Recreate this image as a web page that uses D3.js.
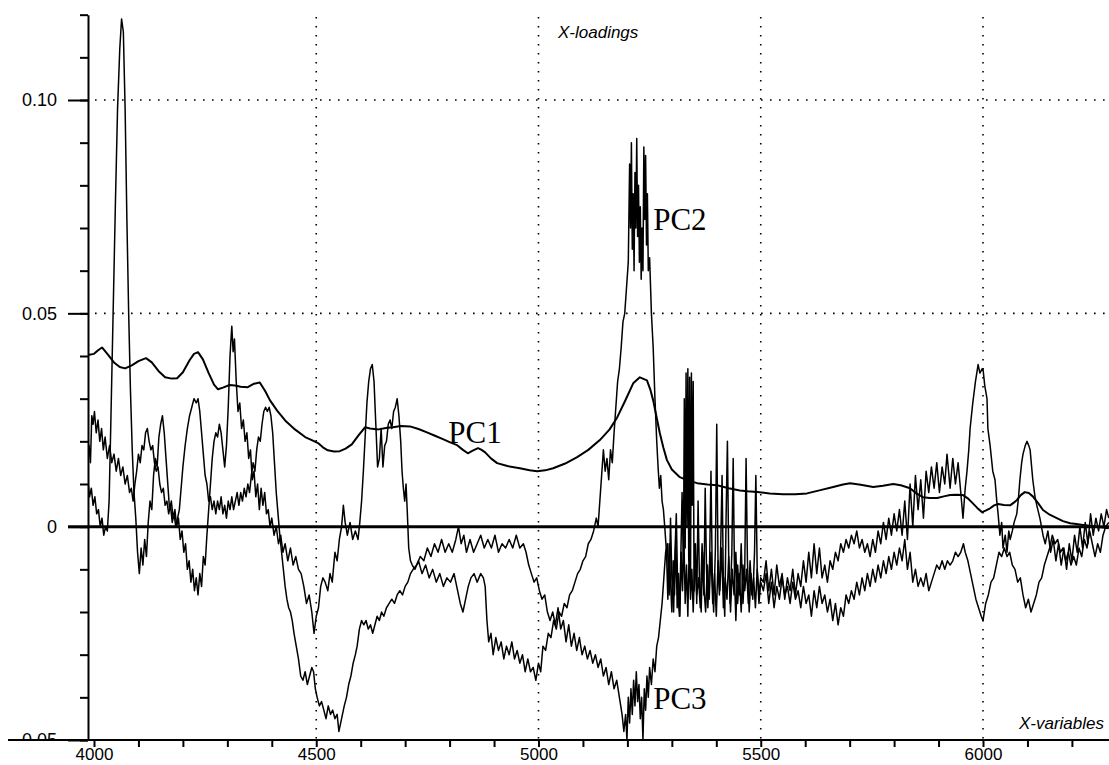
<!DOCTYPE html>
<html>
<head>
<meta charset="utf-8">
<script src="https://cdn.jsdelivr.net/npm/d3@7"></script>
<style>
  body { margin: 0; background: #fff; }
  svg { display: block; }
  .tick text { font-family: "Liberation Sans", Arial, sans-serif; font-size: 17px; fill: #000; }
</style>
</head>
<body>
<script>
// x-variable (wavenumber), loading value
var pc1 = [
  [3986,0.0402],[4000,0.0405],[4010,0.0414],[4018,0.0420],[4030,0.0405],[4045,0.0385],[4058,0.0374],[4070,0.0371],
  [4085,0.0378],[4100,0.0388],[4117,0.0395],[4130,0.0385],[4145,0.0365],[4160,0.0350],[4175,0.0347],[4187,0.0348],
  [4200,0.0362],[4215,0.0390],[4225,0.0405],[4234,0.0409],[4245,0.0392],[4258,0.0360],[4270,0.0333],[4279,0.0322],
  [4290,0.0326],[4305,0.0332],[4317,0.0331],[4330,0.0328],[4346,0.0327],[4360,0.0335],[4373,0.0338],[4385,0.0318],
  [4396,0.0296],[4412,0.0272],[4430,0.0249],[4452,0.0228],[4475,0.0210],[4490,0.0203],[4504,0.0196],[4515,0.0186],
  [4526,0.0179],[4540,0.0176],[4553,0.0177],[4566,0.0183],[4580,0.0193],[4595,0.0214],[4610,0.0233],[4621,0.0230],
  [4640,0.0228],[4660,0.0232],[4673,0.0233],[4690,0.0236],[4711,0.0235],[4730,0.0229],[4749,0.0221],[4767,0.0213],
  [4785,0.0205],[4800,0.0198],[4817,0.0191],[4830,0.0180],[4841,0.0172],[4852,0.0178],[4864,0.0184],[4872,0.0180],
  [4880,0.0174],[4893,0.0160],[4907,0.0149],[4930,0.0142],[4958,0.0137],[4980,0.0132],[4997,0.0130],[5015,0.0132],
  [5033,0.0137],[5060,0.0148],[5087,0.0163],[5112,0.0180],[5138,0.0203],[5160,0.0228],[5177,0.0256],[5195,0.0295],
  [5213,0.0336],[5228,0.0350],[5244,0.0343],[5252,0.0320],[5258,0.0296],[5265,0.0260],[5273,0.0219],[5281,0.0185],
  [5289,0.0156],[5300,0.0134],[5318,0.0116],[5337,0.0108],[5357,0.0102],[5380,0.0099],[5402,0.0097],[5428,0.0090],
  [5453,0.0085],[5470,0.0083],[5492,0.0081],[5520,0.0078],[5550,0.0076],[5578,0.0076],[5604,0.0078],[5632,0.0085],
  [5663,0.0093],[5685,0.0099],[5701,0.0102],[5725,0.0098],[5753,0.0093],[5775,0.0096],[5798,0.0100],[5815,0.0097],
  [5836,0.0090],[5850,0.0078],[5865,0.0069],[5880,0.0067],[5897,0.0067],[5912,0.0071],[5926,0.0074],[5940,0.0075],
  [5955,0.0074],[5965,0.0067],[5975,0.0057],[5987,0.0044],[5998,0.0034],[6007,0.0038],[6016,0.0043],[6025,0.0050],
  [6034,0.0053],[6047,0.0051],[6061,0.0050],[6070,0.0057],[6076,0.0062],[6085,0.0074],[6094,0.0081],[6103,0.0079],
  [6112,0.0071],[6124,0.0055],[6135,0.0039],[6150,0.0028],[6166,0.0020],[6180,0.0013],[6196,0.0008],[6210,0.0006],
  [6225,0.0004],[6240,0.0002],[6256,0.0000],[6270,-0.0002],[6283,-0.0004]
];

var pc2 = [
  [3986,0.011],[3990,0.007],[3994,0.009],[3998,0.005],[4002,0.007],[4006,0.003],[4010,0.004],[4014,0.000],
  [4018,0.002],[4022,-0.002],[4026,0.000],[4030,-0.001],[4034,0.006],[4038,0.025],[4043,0.050],[4048,0.075],
  [4053,0.098],[4058,0.112],[4062,0.119],[4066,0.116],[4070,0.098],[4074,0.072],[4078,0.050],[4082,0.032],
  [4086,0.018],[4090,0.008],[4094,0.002],[4098,-0.006],[4102,-0.011],[4106,-0.005],[4110,-0.009],[4114,-0.003],
  [4118,-0.007],[4122,0.001],[4126,0.006],[4130,0.004],[4134,0.012],[4138,0.016],[4142,0.014],[4146,0.021],
  [4150,0.024],[4154,0.026],[4158,0.022],[4162,0.016],[4166,0.010],[4170,0.004],[4174,0.006],[4178,0.002],
  [4182,0.004],[4186,0.000],[4190,0.002],[4194,-0.003],[4198,-0.001],[4202,-0.006],[4206,-0.004],[4210,-0.010],
  [4214,-0.008],[4218,-0.013],[4222,-0.010],[4226,-0.015],[4230,-0.012],[4234,-0.016],[4238,-0.011],[4242,-0.014],
  [4246,-0.007],[4250,-0.009],[4254,-0.002],[4258,0.004],[4262,0.010],[4266,0.016],[4270,0.020],[4274,0.022],
  [4278,0.021],[4282,0.024],[4286,0.022],[4290,0.018],[4294,0.014],[4298,0.019],[4302,0.028],[4306,0.040],
  [4310,0.047],[4313,0.041],[4316,0.044],[4320,0.034],[4324,0.027],[4328,0.029],[4332,0.023],[4336,0.025],
  [4340,0.020],[4344,0.022],[4348,0.016],[4352,0.018],[4356,0.011],[4360,0.013],[4364,0.007],[4368,0.010],
  [4372,0.004],[4376,0.009],[4380,0.005],[4384,0.008],[4388,0.003],[4392,0.004],[4396,0.000],[4400,0.002],
  [4405,-0.002],[4410,0.000],[4415,-0.004],[4420,-0.002],[4425,-0.006],[4430,-0.004],[4436,-0.008],[4442,-0.005],
  [4448,-0.009],[4454,-0.007],[4460,-0.010],[4466,-0.011],[4472,-0.014],[4478,-0.018],[4484,-0.016],[4490,-0.020],
  [4495,-0.025],[4500,-0.021],[4505,-0.019],[4510,-0.014],[4515,-0.012],[4520,-0.013],[4526,-0.015],[4531,-0.011],
  [4536,-0.013],[4542,-0.006],[4547,-0.008],[4552,-0.003],[4557,0.000],[4561,0.005],[4565,0.001],[4570,-0.002],
  [4576,0.001],[4582,-0.003],[4588,-0.001],[4594,-0.003],[4598,0.001],[4602,0.006],[4606,0.013],[4610,0.021],
  [4614,0.029],[4618,0.034],[4622,0.037],[4626,0.038],[4630,0.034],[4634,0.024],[4638,0.014],[4642,0.016],
  [4646,0.023],[4650,0.014],[4654,0.019],[4658,0.020],[4662,0.024],[4666,0.025],[4670,0.023],[4674,0.027],
  [4678,0.028],[4682,0.030],[4686,0.026],[4690,0.020],[4693,0.013],[4696,0.009],[4699,0.006],[4702,0.010],
  [4705,0.003],[4708,-0.005],[4712,-0.008],[4716,-0.009],[4722,-0.010],[4730,-0.008],[4738,-0.011],[4746,-0.009],
  [4754,-0.012],[4762,-0.010],[4770,-0.013],[4778,-0.011],[4786,-0.014],[4794,-0.012],[4802,-0.013],[4810,-0.011],
  [4818,-0.015],[4824,-0.018],[4830,-0.020],[4836,-0.017],[4842,-0.014],[4848,-0.012],[4855,-0.011],[4862,-0.013],
  [4870,-0.011],[4876,-0.012],[4880,-0.014],[4884,-0.022],[4888,-0.027],[4893,-0.025],[4898,-0.030],[4904,-0.026],
  [4910,-0.029],[4916,-0.027],[4922,-0.031],[4928,-0.028],[4934,-0.030],[4940,-0.027],[4946,-0.031],[4952,-0.029],
  [4958,-0.032],[4964,-0.030],[4970,-0.034],[4976,-0.031],[4982,-0.034],[4988,-0.033],[4994,-0.036],[5000,-0.032],
  [5005,-0.034],[5010,-0.028],[5016,-0.029],[5022,-0.025],[5028,-0.026],[5034,-0.022],[5040,-0.024],[5046,-0.020],
  [5052,-0.021],[5058,-0.018],[5064,-0.019],[5070,-0.016],[5076,-0.015],[5082,-0.013],[5088,-0.011],[5094,-0.010],
  [5100,-0.008],[5106,-0.007],[5112,-0.004],[5118,-0.003],[5124,-0.001],[5130,0.002],[5134,0.000],[5138,0.006],
  [5142,0.012],[5146,0.018],[5150,0.013],[5154,0.016],[5158,0.011],[5162,0.018],[5166,0.015],[5170,0.022],
  [5174,0.028],[5178,0.034],[5182,0.037],[5186,0.042],[5190,0.048],[5194,0.050],[5198,0.056],[5202,0.062],
  [5205,0.085],[5207,0.070],[5209,0.090],[5211,0.065],[5213,0.078],[5215,0.060],[5217,0.083],[5219,0.070],
  [5221,0.091],[5223,0.068],[5225,0.080],[5227,0.062],[5229,0.075],[5231,0.058],[5233,0.070],[5235,0.060],
  [5237,0.089],[5239,0.072],[5241,0.087],[5243,0.066],[5245,0.078],[5247,0.060],[5250,0.063],[5254,0.050],
  [5258,0.042],[5262,0.030],[5266,0.020],[5269,0.014],[5272,0.009],[5275,0.012],[5278,0.006],[5281,0.004],
  [5284,0.000],[5288,-0.006],[5291,-0.017],[5294,-0.004],[5297,-0.013],[5300,-0.020],[5303,-0.008],[5306,-0.016],
  [5309,-0.003],[5312,-0.019],[5315,-0.011],[5318,-0.021],[5321,-0.006],[5324,-0.015],[5327,-0.002],[5330,-0.018],
  [5333,-0.009],[5336,-0.021],[5339,-0.005],[5342,-0.017],[5345,-0.010],[5348,-0.020],[5352,-0.007],[5356,-0.016],
  [5360,-0.012],[5364,-0.019],[5368,-0.004],[5372,-0.014],[5376,-0.020],[5380,-0.009],[5384,-0.017],[5388,-0.006],
  [5392,-0.018],[5396,-0.011],[5400,-0.021],[5404,-0.008],[5408,-0.015],[5412,-0.005],[5416,-0.019],[5420,-0.012],
  [5424,-0.017],[5428,-0.007],[5432,-0.020],[5436,-0.010],[5440,-0.016],[5444,-0.006],[5448,-0.018],[5452,-0.011],
  [5456,-0.020],[5460,-0.009],[5464,-0.015],[5468,-0.010],[5472,-0.018],[5476,-0.008],[5480,-0.016],[5484,-0.012],
  [5488,-0.019],[5492,-0.010],[5496,-0.016],[5500,-0.012],
  [5506,-0.013],[5512,-0.008],[5518,-0.015],[5524,-0.010],[5530,-0.016],[5536,-0.009],[5542,-0.014],[5548,-0.011],
  [5554,-0.017],[5560,-0.012],[5566,-0.015],[5572,-0.010],[5578,-0.016],[5584,-0.011],[5590,-0.014],[5596,-0.008],
  [5602,-0.013],[5608,-0.006],[5614,-0.012],[5620,-0.004],[5626,-0.011],[5632,-0.005],[5638,-0.012],[5644,-0.009],
  [5650,-0.013],[5656,-0.008],[5662,-0.010],[5668,-0.006],[5674,-0.008],[5680,-0.004],[5686,-0.006],[5692,-0.003],
  [5698,-0.005],[5704,-0.002],[5710,-0.004],[5716,-0.001],[5722,-0.005],[5728,-0.003],[5734,-0.006],[5740,-0.004],
  [5746,-0.007],[5752,-0.003],[5758,-0.006],[5764,-0.001],[5770,-0.004],[5776,0.001],[5782,-0.003],[5788,0.002],
  [5794,-0.002],[5800,0.003],[5806,-0.001],[5812,0.004],[5818,-0.002],[5824,0.006],[5830,-0.003],[5836,0.010],
  [5842,0.000],[5848,0.012],[5854,0.004],[5860,0.011],[5866,0.002],[5872,0.013],[5878,0.008],[5884,0.014],
  [5890,0.009],[5896,0.015],[5902,0.008],[5908,0.014],[5914,0.010],[5919,0.017],[5926,0.009],[5932,0.016],
  [5938,0.010],[5944,0.015],[5950,0.008],[5955,0.002],[5960,0.009],[5964,0.013],[5968,0.018],[5971,0.023],
  [5977,0.029],[5983,0.034],[5986,0.036],[5989,0.038],[5993,0.036],[5998,0.037],[6000,0.037],[6004,0.033],
  [6009,0.030],[6011,0.023],[6016,0.019],[6022,0.013],[6027,0.011],[6031,0.006],[6034,0.003],[6038,-0.002],
  [6042,0.001],[6045,-0.005],[6050,-0.002],[6054,-0.006],[6058,-0.001],[6061,-0.003],[6066,-0.001],[6070,0.001],
  [6076,0.003],[6080,0.007],[6083,0.011],[6087,0.015],[6090,0.017],[6095,0.019],[6099,0.020],[6103,0.019],
  [6106,0.018],[6112,0.011],[6117,0.007],[6121,0.005],[6128,0.002],[6135,-0.002],[6140,-0.004],[6146,-0.001],
  [6152,-0.006],[6158,-0.003],[6164,-0.008],[6170,-0.004],[6176,-0.009],[6182,-0.005],[6188,-0.010],[6194,-0.004],
  [6200,-0.008],[6206,-0.002],[6212,-0.006],[6218,0.000],[6224,-0.005],[6230,0.001],[6236,-0.004],[6242,0.003],
  [6248,-0.002],[6254,0.002],[6260,-0.001],[6266,0.003],[6272,0.000],[6278,0.004],[6283,0.002]
];

var pc3 = [
  [3986,0.016],[3989,0.019],[3992,0.015],[3995,0.026],[3998,0.024],[4001,0.027],[4005,0.022],[4009,0.025],
  [4013,0.020],[4017,0.023],[4021,0.018],[4025,0.021],[4030,0.016],[4035,0.019],[4040,0.015],[4045,0.017],
  [4050,0.013],[4055,0.016],[4060,0.012],[4065,0.014],[4070,0.010],[4075,0.012],[4080,0.008],[4084,0.009],
  [4088,0.006],[4092,0.010],[4096,0.013],[4100,0.017],[4104,0.015],[4108,0.019],[4112,0.018],[4116,0.022],
  [4120,0.023],[4124,0.020],[4128,0.018],[4132,0.019],[4136,0.015],[4140,0.013],[4144,0.014],[4148,0.010],
  [4152,0.008],[4156,0.009],[4160,0.005],[4164,0.006],[4168,0.003],[4172,0.005],[4176,0.001],[4180,0.003],
  [4184,0.000],[4188,0.002],[4192,0.004],[4196,0.009],[4200,0.014],[4205,0.019],[4210,0.023],[4215,0.026],
  [4220,0.028],[4225,0.030],[4230,0.029],[4234,0.030],[4238,0.027],[4242,0.022],[4246,0.017],[4250,0.012],
  [4254,0.010],[4258,0.006],[4262,0.007],[4266,0.004],[4270,0.006],[4274,0.003],[4278,0.006],[4282,0.004],
  [4286,0.007],[4290,0.003],[4294,0.005],[4298,0.002],[4302,0.006],[4306,0.004],[4310,0.007],[4314,0.004],
  [4318,0.006],[4322,0.008],[4326,0.005],[4330,0.008],[4334,0.006],[4338,0.009],[4342,0.007],[4346,0.010],
  [4350,0.008],[4354,0.012],[4358,0.015],[4362,0.013],[4366,0.018],[4370,0.021],[4374,0.020],[4378,0.024],
  [4382,0.027],[4386,0.028],[4390,0.027],[4394,0.028],[4398,0.026],[4402,0.022],[4406,0.015],[4410,0.008],
  [4414,0.003],[4418,-0.002],[4422,-0.006],[4426,-0.010],[4430,-0.014],[4434,-0.017],[4438,-0.019],[4442,-0.020],
  [4446,-0.022],[4450,-0.025],[4455,-0.028],[4460,-0.031],[4465,-0.035],[4470,-0.036],[4475,-0.034],[4480,-0.037],
  [4485,-0.035],[4490,-0.033],[4494,-0.034],[4498,-0.038],[4502,-0.040],[4507,-0.042],[4512,-0.041],[4517,-0.043],
  [4522,-0.045],[4527,-0.042],[4532,-0.044],[4537,-0.043],[4542,-0.045],[4547,-0.044],[4551,-0.048],[4555,-0.046],
  [4559,-0.044],[4563,-0.042],[4568,-0.040],[4573,-0.037],[4578,-0.035],[4583,-0.032],[4588,-0.030],[4592,-0.028],
  [4597,-0.024],[4602,-0.022],[4607,-0.023],[4612,-0.022],[4617,-0.024],[4622,-0.023],[4627,-0.025],[4632,-0.023],
  [4637,-0.021],[4642,-0.022],[4647,-0.020],[4652,-0.021],[4658,-0.019],[4664,-0.018],[4670,-0.017],[4676,-0.018],
  [4682,-0.016],[4688,-0.015],[4694,-0.016],[4700,-0.014],[4706,-0.013],[4712,-0.011],[4718,-0.010],[4726,-0.009],
  [4734,-0.007],[4742,-0.008],[4750,-0.005],[4758,-0.007],[4766,-0.004],[4774,-0.006],[4782,-0.003],[4790,-0.006],
  [4798,-0.004],[4806,-0.006],[4814,-0.003],[4820,0.000],[4826,-0.004],[4832,-0.002],[4838,-0.006],[4846,-0.003],
  [4854,-0.006],[4862,-0.004],[4870,-0.002],[4878,-0.005],[4886,-0.003],[4894,-0.005],[4902,-0.002],[4910,-0.006],
  [4918,-0.004],[4926,-0.005],[4934,-0.003],[4942,-0.005],[4950,-0.002],[4958,-0.005],[4966,-0.004],[4972,-0.006],
  [4978,-0.009],[4984,-0.011],[4990,-0.013],[4996,-0.012],[5002,-0.015],[5008,-0.017],[5014,-0.016],[5020,-0.020],
  [5026,-0.022],[5032,-0.020],[5038,-0.023],[5044,-0.019],[5050,-0.024],[5056,-0.022],[5062,-0.027],[5068,-0.023],
  [5074,-0.028],[5080,-0.025],[5086,-0.029],[5092,-0.026],[5098,-0.030],[5104,-0.028],[5110,-0.031],[5116,-0.029],
  [5122,-0.032],[5128,-0.030],[5134,-0.033],[5140,-0.031],[5146,-0.035],[5152,-0.033],[5158,-0.037],[5164,-0.034],
  [5170,-0.038],[5176,-0.036],[5182,-0.040],[5188,-0.044],[5192,-0.048],[5196,-0.044],[5199,-0.050],[5202,-0.040],
  [5205,-0.046],[5208,-0.038],[5211,-0.044],[5214,-0.036],[5217,-0.042],[5220,-0.034],[5223,-0.041],[5226,-0.037],
  [5229,-0.045],[5232,-0.040],[5235,-0.050],[5238,-0.038],[5241,-0.043],[5244,-0.035],[5247,-0.040],[5250,-0.033],
  [5254,-0.037],[5258,-0.031],[5262,-0.034],[5266,-0.028],[5270,-0.026],[5274,-0.022],[5278,-0.018],[5282,-0.012],
  [5286,-0.006],[5290,-0.004],[5294,-0.016],[5297,0.002],[5300,-0.012],[5304,-0.020],[5307,-0.006],[5310,0.003],
  [5313,-0.014],[5317,-0.021],[5320,-0.008],[5323,0.008],[5326,-0.010],[5328,0.030],[5330,-0.005],[5332,0.036],
  [5334,0.000],[5336,0.037],[5338,-0.008],[5340,0.035],[5342,-0.012],[5344,0.036],[5346,0.005],[5348,0.034],
  [5350,-0.015],[5353,-0.004],[5356,-0.018],[5359,0.006],[5362,-0.012],[5366,-0.020],[5369,-0.006],[5372,-0.016],
  [5375,0.009],[5378,-0.010],[5381,-0.019],[5385,-0.008],[5388,0.013],[5391,-0.012],[5394,-0.020],[5398,-0.005],
  [5401,0.024],[5404,-0.010],[5407,-0.016],[5410,-0.004],[5413,0.012],[5416,-0.014],[5419,-0.021],[5422,0.002],
  [5425,0.020],[5428,-0.008],[5431,-0.018],[5435,-0.006],[5438,0.016],[5441,-0.012],[5444,-0.022],[5448,-0.009],
  [5452,-0.016],[5456,-0.004],[5460,-0.018],[5464,-0.010],[5467,0.016],[5470,-0.008],[5474,-0.020],[5478,-0.011],
  [5482,-0.017],[5486,-0.006],[5489,0.012],[5492,-0.010],[5496,-0.018],[5500,-0.013],
  [5506,-0.015],[5512,-0.011],[5518,-0.018],[5524,-0.013],[5530,-0.019],[5536,-0.014],
  [5542,-0.017],[5548,-0.012],[5554,-0.016],[5560,-0.014],[5566,-0.018],[5572,-0.013],[5578,-0.017],[5584,-0.015],
  [5590,-0.019],[5596,-0.014],[5602,-0.018],[5608,-0.016],[5614,-0.021],[5620,-0.015],[5626,-0.019],[5632,-0.014],
  [5638,-0.018],[5644,-0.016],[5650,-0.020],[5656,-0.017],[5662,-0.022],[5668,-0.018],[5674,-0.023],[5680,-0.019],
  [5686,-0.021],[5692,-0.016],[5698,-0.018],[5704,-0.015],[5710,-0.017],[5716,-0.013],[5722,-0.016],[5728,-0.012],
  [5734,-0.015],[5740,-0.011],[5746,-0.014],[5752,-0.010],[5758,-0.013],[5764,-0.009],[5770,-0.012],[5776,-0.008],
  [5782,-0.011],[5788,-0.007],[5794,-0.010],[5800,-0.006],[5806,-0.009],[5812,-0.005],[5818,-0.008],[5824,-0.003],
  [5830,-0.010],[5836,-0.006],[5842,-0.013],[5848,-0.010],[5854,-0.014],[5860,-0.012],[5866,-0.014],[5872,-0.011],
  [5878,-0.015],[5884,-0.013],[5890,-0.011],[5896,-0.009],[5902,-0.010],[5908,-0.008],[5914,-0.010],[5920,-0.008],
  [5926,-0.009],[5932,-0.008],[5938,-0.006],[5944,-0.007],[5950,-0.006],[5956,-0.004],[5960,-0.006],[5966,-0.008],
  [5972,-0.011],[5978,-0.014],[5984,-0.017],[5990,-0.019],[5996,-0.021],[6000,-0.022],[6006,-0.018],[6012,-0.016],
  [6018,-0.013],[6024,-0.012],[6030,-0.009],[6036,-0.006],[6042,-0.007],[6048,-0.005],[6054,-0.007],[6060,-0.006],
  [6066,-0.009],[6072,-0.010],[6078,-0.013],[6084,-0.012],[6090,-0.016],[6096,-0.019],[6102,-0.017],[6108,-0.020],
  [6114,-0.018],[6120,-0.016],[6126,-0.013],[6132,-0.012],[6138,-0.009],[6144,-0.007],[6150,-0.005],[6156,-0.002],
  [6162,-0.004],[6168,-0.003],[6174,-0.006],[6180,-0.005],[6186,-0.008],[6192,-0.006],[6198,-0.009],[6204,-0.007],
  [6210,-0.009],[6216,-0.005],[6222,-0.007],[6228,-0.003],[6234,-0.005],[6240,-0.001],[6246,-0.004],[6252,-0.007],
  [6258,-0.004],[6264,-0.006],[6270,-0.002],[6276,0.000],[6283,0.001]
];

var xTicks = d3.range(4000, 6300, 100);
var xTickLabels = ["4000", "4500", "5000", "5500", "6000"];
var xGrid = [4500, 5000, 5500, 6000];
var yMinorTicks = d3.range(-5, 13).map(function(i) { return i / 100; });
var yMajorTicks = [-0.05, 0, 0.05, 0.10];
var yTickLabels = ["-0.05", "0", "0.05", "0.10"];
var yGrid = [0.05, 0.10];
var curveLabels = [
  {name: "PC1", x: 4797, y: 0.0195},
  {name: "PC2", x: 5258, y: 0.0695},
  {name: "PC3", x: 5258, y: -0.0427}
];

var width = 1109, height = 765;

var x = d3.scaleLinear().domain([4000, 6000]).range([94, 983]);
var y = d3.scaleLinear().domain([-0.05, 0.12]).range([740, 14.67]);

var svg = d3.select("body").append("svg")
    .attr("width", width)
    .attr("height", height);

svg.append("defs").append("clipPath")
    .attr("id", "plot-clip")
    .append("rect")
    .attr("x", 88).attr("y", 12)
    .attr("width", width - 88).attr("height", 728);

svg.append("defs").append("clipPath")
    .attr("id", "ylab-clip")
    .append("rect")
    .attr("x", 0).attr("y", 0)
    .attr("width", 88).attr("height", 739);

// dotted grid
svg.append("g").selectAll("line")
    .data(yGrid)
    .enter().append("line")
    .attr("x1", 95).attr("x2", width)
    .attr("y1", function(d) { return y(d); })
    .attr("y2", function(d) { return y(d); })
    .attr("stroke", "#000")
    .attr("stroke-width", 1.6)
    .attr("stroke-dasharray", "1.6,7.4");

svg.append("g").selectAll("line")
    .data(xGrid)
    .enter().append("line")
    .attr("x1", function(d) { return x(d); })
    .attr("x2", function(d) { return x(d); })
    .attr("y1", 17).attr("y2", 740)
    .attr("stroke", "#000")
    .attr("stroke-width", 1.6)
    .attr("stroke-dasharray", "1.6,7.4");

// zero line
svg.append("line")
    .attr("x1", 68).attr("x2", width)
    .attr("y1", y(0)).attr("y2", y(0))
    .attr("stroke", "#000")
    .attr("stroke-width", 3);

// the loadings
var line = d3.line()
    .x(function(d) { return x(d[0]); })
    .y(function(d) { return y(d[1]); });

var plot = svg.append("g").attr("clip-path", "url(#plot-clip)");

plot.append("path").datum(pc3)
    .attr("d", line)
    .attr("fill", "none")
    .attr("stroke", "#000")
    .attr("stroke-width", 1.5)
    .attr("stroke-linejoin", "round");

plot.append("path").datum(pc2)
    .attr("d", line)
    .attr("fill", "none")
    .attr("stroke", "#000")
    .attr("stroke-width", 1.5)
    .attr("stroke-linejoin", "round");

plot.append("path").datum(pc1)
    .attr("d", line)
    .attr("fill", "none")
    .attr("stroke", "#000")
    .attr("stroke-width", 2)
    .attr("stroke-linejoin", "round");

// y axis: minor ticks, then major ticks
svg.append("g")
    .attr("transform", "translate(88,0)")
    .call(d3.axisLeft(y).tickValues(yMinorTicks).tickSize(8).tickSizeOuter(0).tickFormat(""))
    .call(function(g) {
      g.select(".domain").attr("stroke-width", 2);
      g.selectAll(".tick line").attr("stroke-width", 2);
    });

svg.append("g")
    .attr("transform", "translate(88,0)")
    .call(d3.axisLeft(y).tickValues(yMajorTicks).tickSize(20).tickSizeOuter(0).tickFormat(""))
    .call(function(g) {
      g.select(".domain").remove();
      g.selectAll(".tick line").attr("stroke-width", 2);
    });

svg.append("g")
    .attr("clip-path", "url(#ylab-clip)")
    .selectAll("text")
    .data(yMajorTicks)
    .enter().append("text")
    .attr("x", 57)
    .attr("y", function(d) { return y(d); })
    .attr("dy", "0.35em")
    .attr("text-anchor", "end")
    .style("font-family", "'Liberation Sans', Arial, sans-serif")
    .style("font-size", "18px")
    .text(function(d, i) { return yTickLabels[i]; });

// x axis
svg.append("g")
    .attr("transform", "translate(0,740)")
    .call(d3.axisBottom(x).tickValues(xTicks).tickSize(7).tickPadding(1)
      .tickFormat(function(d) { return xTickLabels.indexOf(String(d)) >= 0 ? String(d) : ""; }))
    .call(function(g) {
      g.select(".domain").remove();
      g.selectAll(".tick line").attr("stroke-width", 2);
    });

svg.append("line")
    .attr("x1", 8).attr("x2", width)
    .attr("y1", 740).attr("y2", 740)
    .attr("stroke", "#000")
    .attr("stroke-width", 2);

// titles
svg.append("text")
    .attr("x", 558).attr("y", 38)
    .style("font-family", "'Liberation Sans', Arial, sans-serif")
    .style("font-style", "italic")
    .style("font-size", "17px")
    .text("X-loadings");

svg.append("text")
    .attr("x", 1104).attr("y", 729)
    .attr("text-anchor", "end")
    .style("font-family", "'Liberation Sans', Arial, sans-serif")
    .style("font-style", "italic")
    .style("font-size", "17px")
    .text("X-variables");

svg.selectAll(".pclabel")
    .data(curveLabels)
    .enter().append("text")
    .attr("class", "pclabel")
    .attr("x", function(d) { return x(d.x); })
    .attr("y", function(d) { return y(d.y); })
    .style("font-family", "'Liberation Serif', 'Times New Roman', serif")
    .style("font-size", "31px")
    .text(function(d) { return d.name; });
</script>
</body>
</html>
